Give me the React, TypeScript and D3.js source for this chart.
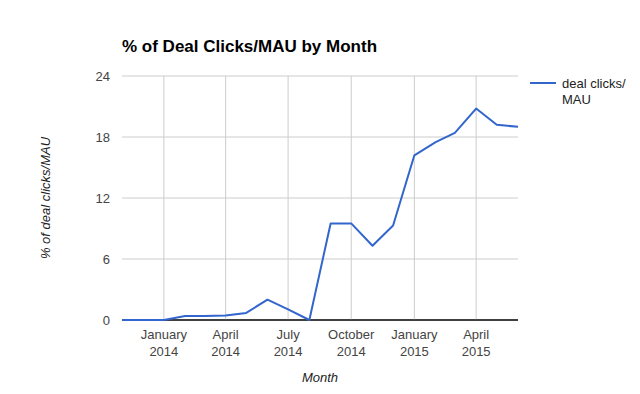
import React from 'react';
import * as d3 from 'd3';

// monthly values, Nov 2013 .. Jun 2015
const months = [
  '2013-11', '2013-12', '2014-01', '2014-02', '2014-03', '2014-04', '2014-05',
  '2014-06', '2014-07', '2014-08', '2014-09', '2014-10', '2014-11', '2014-12',
  '2015-01', '2015-02', '2015-03', '2015-04', '2015-05', '2015-06',
];
const dealClicksPerMau = [
  0, 0, 0, 0.4, 0.4, 0.45, 0.7, 2.0, 1.05, 0,
  9.5, 9.5, 7.3, 9.3, 16.2, 17.5, 18.4, 20.8, 19.2, 19.0,
];
const yTicks = [0, 6, 12, 18, 24];
const xTickMonths = ['2014-01', '2014-04', '2014-07', '2014-10', '2015-01', '2015-04'];
const xTickLabels = [
  ['January', '2014'], ['April', '2014'], ['July', '2014'],
  ['October', '2014'], ['January', '2015'], ['April', '2015'],
];

const W = 640;
const H = 394;
const plot = {left: 122, right: 518, top: 76, bottom: 320};
const font = 'Arial, "Liberation Sans", sans-serif';

const parse = d3.timeParse('%Y-%m');

export default function App() {
  const dates = months.map(m => parse(m) as Date);
  const x = d3.scaleTime()
    .domain([dates[0], dates[dates.length - 1]])
    .range([plot.left, plot.right]);
  const y = d3.scaleLinear().domain([0, 24]).range([plot.bottom, plot.top]);

  const line = d3.line<number>()
    .x((_, i) => x(dates[i]))
    .y(d => y(d));

  return (
    <div style={{position: 'fixed', left: 0, top: 0}}>
      <svg width={W} height={H} style={{display: 'block', background: '#fff'}} fontFamily={font}>
        <text x={plot.left} y={52} fontSize={17} fontWeight="bold" fill="#000">
          % of Deal Clicks/MAU by Month
        </text>

        {yTicks.map(t => (
          <g key={t}>
            <line x1={plot.left} x2={plot.right} y1={y(t)} y2={y(t)}
              stroke={t === 0 ? '#333' : '#ccc'} strokeWidth={t === 0 ? 1.5 : 1} />
            <text x={plot.left - 12} y={y(t) + 4.5} textAnchor="end" fontSize={13} fill="#444">{t}</text>
          </g>
        ))}

        {xTickMonths.map((m, i) => {
          const xx = x(parse(m) as Date);
          return (
            <g key={m}>
              <line x1={xx} x2={xx} y1={plot.top} y2={plot.bottom} stroke="#ccc" />
              <text x={xx} y={339} textAnchor="middle" fontSize={13} fill="#444">{xTickLabels[i][0]}</text>
              <text x={xx} y={356} textAnchor="middle" fontSize={13} fill="#444">{xTickLabels[i][1]}</text>
            </g>
          );
        })}

        <line x1={plot.left} x2={plot.right} y1={plot.bottom} y2={plot.bottom} stroke="#333" strokeWidth={1.5} />

        <path d={line(dealClicksPerMau) || ''} fill="none" stroke="#3366cc" strokeWidth={2} strokeLinejoin="round" />

        <text x={(plot.left + plot.right) / 2} y={382} textAnchor="middle" fontSize={13} fontStyle="italic" fill="#222">
          Month
        </text>
        <text transform={`translate(50, ${(plot.top + plot.bottom) / 2}) rotate(-90)`} textAnchor="middle"
          fontSize={13} fontStyle="italic" fill="#222">
          % of deal clicks/MAU
        </text>

        <line x1={530} x2={556} y1={83} y2={83} stroke="#3366cc" strokeWidth={2} />
        <text x={562} y={88} fontSize={13} fill="#222">deal clicks/</text>
        <text x={562} y={104} fontSize={13} fill="#222">MAU</text>
      </svg>
    </div>
  );
}
